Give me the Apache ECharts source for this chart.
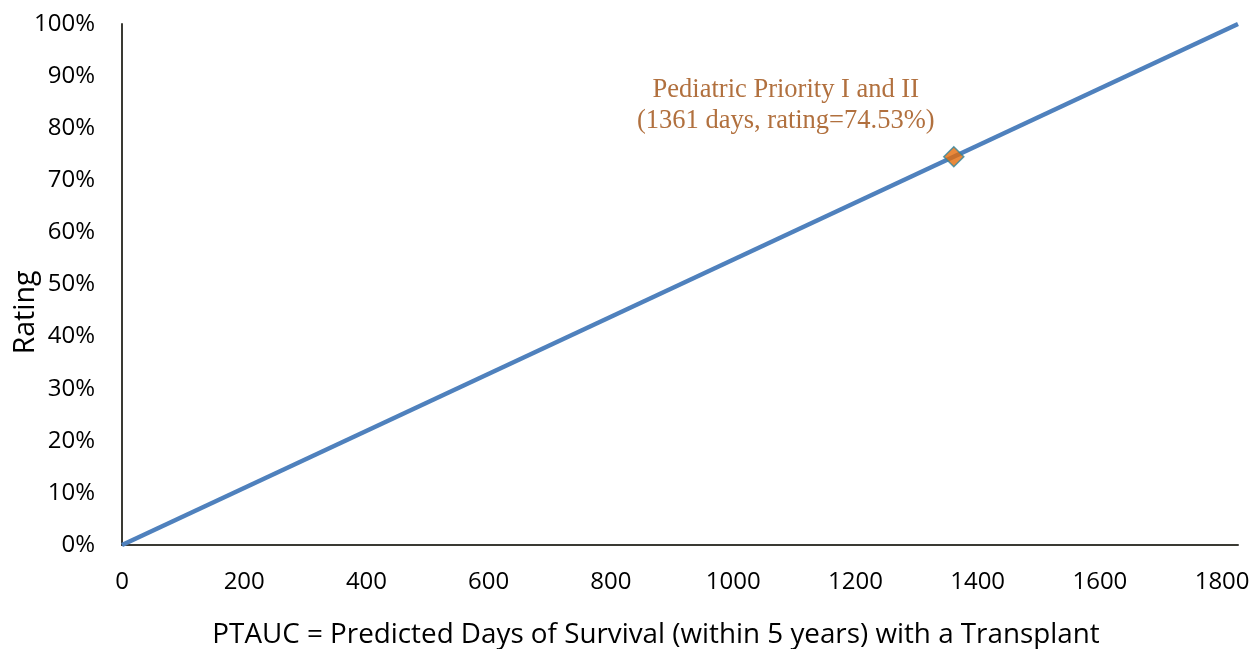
<!DOCTYPE html>
<html><head><meta charset="utf-8">
<script src="https://cdn.jsdelivr.net/npm/echarts@6/dist/echarts.min.js"></script>
<style>html,body{margin:0;padding:0;background:#fff}#c{width:1255px;height:649px}</style>
</head><body><div id="c"></div>
<script>
const lineX = [0, 1826];
const lineY = [0, 100];
const pointX = [1361];
const pointY = [74.53];
const pointLabel = ['Pediatric Priority I and II', '(1361 days, rating=74.53%)'];
const xTitle = 'PTAUC = Predicted Days of Survival (within 5 years) with a Transplant';
const yTitle = 'Rating';

const chart = echarts.init(document.getElementById('c'));
const font = 'Open Sans, Noto Sans, sans-serif';
chart.setOption({
  animation: false,
  grid: {left: 122, right: 17, top: 24, bottom: 104, containLabel: false, outerBoundsMode: 'none'},
  xAxis: {
    type: 'value', min: 0, max: 1826, interval: 200,
    axisLine: {show: true, lineStyle: {color: '#3a3a34', width: 2}},
    axisTick: {show: false}, splitLine: {show: false},
    axisLabel: {showMaxLabel: false, formatter: v => String(v), color: '#000', fontSize: 24, fontFamily: font, margin: 25},
    name: xTitle, nameLocation: 'middle', nameGap: 76, nameMoveOverlap: false,
    nameTextStyle: {color: '#000', fontSize: 27.8, fontFamily: font, padding: [0, 48, 0, 0]}
  },
  yAxis: {
    type: 'value', min: 0, max: 100, interval: 10,
    axisLine: {show: true, lineStyle: {color: '#3a3a34', width: 2}},
    axisTick: {show: false}, splitLine: {show: false},
    axisLabel: {formatter: '{value}%', color: '#000', fontSize: 24, fontFamily: font, margin: 27},
    name: yTitle, nameLocation: 'middle', nameGap: 82, nameMoveOverlap: false,
    nameTextStyle: {color: '#000', fontSize: 28.5, fontFamily: font, padding: [0, 56, 0, 0]}
  },
  series: [
    {type: 'line', data: lineX.map((x, i) => [x, lineY[i]]), showSymbol: false,
     lineStyle: {color: '#4F81BD', width: 4.5}, z: 2},
    {type: 'scatter', data: pointX.map((x, i) => [x, pointY[i]]), symbol: 'diamond', symbolSize: [20, 20],
     itemStyle: {color: '#E46C0A', borderColor: '#31859C', borderWidth: 1.5}, z: 3,
     label: {show: true, position: 'top', distance: 9, offset: [-168, 0],
       formatter: pointLabel.join('\n'), color: '#9E4C0E', fontSize: 26.5, lineHeight: 31,
       fontFamily: 'Liberation Serif, DejaVu Serif, serif', align: 'center'}}
  ]
});
</script></body></html>
